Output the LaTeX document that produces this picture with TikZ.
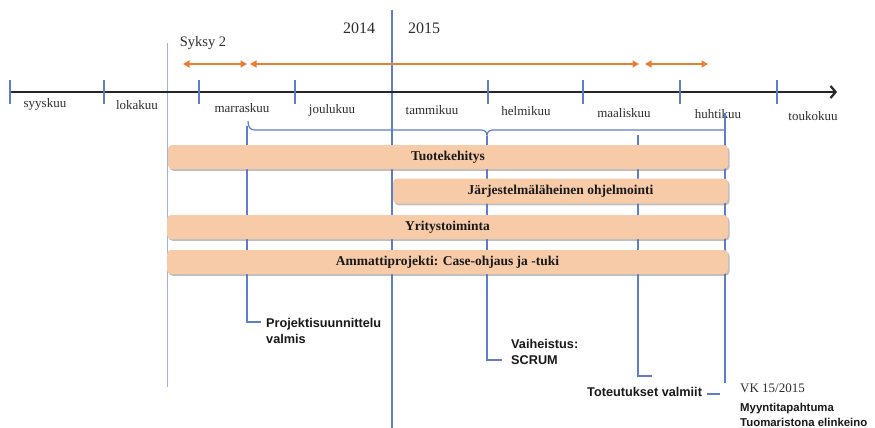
\documentclass[tikz,border=0pt]{standalone}
\usepackage{fontspec}
\setmainfont{Liberation Serif}
\setsansfont{Liberation Sans}
\usetikzlibrary{arrows.meta,shadows}
\definecolor{lineblue}{RGB}{95,125,205}
\definecolor{orangeline}{RGB}{237,125,49}
\definecolor{peach}{RGB}{247,203,168}
\definecolor{txtgray}{RGB}{45,45,45}
\begin{document}
\begin{tikzpicture}[x=1pt,y=-1pt,
  month/.style={font=\fontsize{13}{15}\selectfont, text=txtgray, inner sep=0pt, anchor=base},
  yearlbl/.style={font=\fontsize{16}{18}\selectfont, text=txtgray, inner sep=0pt, anchor=base},
  bar/.style={fill=peach, rounded corners=4pt, inner sep=0pt, minimum height=24pt,
    text=black!90, font=\bfseries\fontsize{13.5}{15}\selectfont,
    drop shadow={shadow xshift=1.5pt, shadow yshift=-1.8pt, opacity=0.45, fill=black!55}},
  blueline/.style={draw=lineblue, line width=1.2pt},
  thinline/.style={draw=lineblue!60, line width=0.7pt},
  monthtick/.style={draw=lineblue, line width=1.3pt},
  axisline/.style={draw=black!85, line width=2.2pt, -{Straight Barb[length=5pt,width=12pt]}},
  orarrow/.style={draw=orangeline, line width=1.3pt, {Triangle[length=6.5pt,width=7pt]}-{Triangle[length=6.5pt,width=7pt]}},
  note/.style={font=\sffamily\bfseries\fontsize{12.7}{16}\selectfont, text=black!90, align=left, inner sep=0pt},
  note2/.style={font=\sffamily\bfseries\fontsize{11.4}{15}\selectfont, text=black!90, align=left, inner sep=0pt}
]
\useasboundingbox (0,0) rectangle (875,428);
\fill[white] (0,0) rectangle (875,428);

% guide lines
\coordinate (yl1) at (392,10);
\coordinate (yl2) at (392,428);
\draw[blueline] (yl1) -- (yl2);
\coordinate (sl1) at (167,43);
\coordinate (sl2) at (167,387);
\draw[thinline] (sl1) -- (sl2);

% axis
\coordinate (ax0) at (10,92);
\coordinate (ax1) at (837,92);
\draw[axisline] (ax0) -- (ax1);
\foreach \x in {10,104,199,295,488,583,680,777}
  \draw[monthtick] (\x,80) -- (\x,104);

% month labels
\node[month] (m1) at (45,107) {syyskuu};
\node[month] (m2) at (137,109) {lokakuu};
\node[month] (m3) at (242,112) {marraskuu};
\node[month] (m4) at (332,113) {joulukuu};
\node[month] (m5) at (432,114) {tammikuu};
\node[month] (m6) at (526,115) {helmikuu};
\node[month] (m7) at (624,117) {maaliskuu};
\node[month] (m8) at (718,118) {huhtikuu};
\node[month] (m9) at (813,120) {toukokuu};

% years and season
\node[yearlbl] (y14) at (359,33.5) {2014};
\node[yearlbl] (y15) at (424,33.5) {2015};
\node[font=\fontsize{14.5}{16}\selectfont, text=txtgray, inner sep=0pt, anchor=base] (syk) at (203,47) {Syksy 2};

% orange period arrows
\coordinate (o1a) at (183,64);
\coordinate (o1b) at (247,64);
\coordinate (o2a) at (250,64);
\coordinate (o2b) at (639,64);
\coordinate (o3a) at (645,64);
\coordinate (o3b) at (708,64);
\draw[orarrow] (o1a) -- (o1b);
\draw[orarrow] (o2a) -- (o2b);
\draw[orarrow] (o3a) -- (o3b);

% brace
\draw[blueline] (248,121) .. controls (248,127) and (250,130) .. (255,130)
  -- (481,130) .. controls (485,130) and (487,132) .. (487,136)
  .. controls (487,132) and (489,130) .. (493,130) -- (725,130);

% milestone connectors
\coordinate (pv1) at (247,126);
\coordinate (pv2) at (261,322);
\draw[blueline] (pv1) |- (pv2);
\coordinate (vv1) at (487,136);
\coordinate (vv2) at (502,360);
\draw[blueline] (vv1) |- (vv2);
\coordinate (tv1) at (638,135);
\coordinate (tv2) at (652,376);
\draw[blueline] (tv1) |- (tv2);
\coordinate (hv1) at (725,113);
\coordinate (hv2) at (725,383);
\draw[blueline] (hv1) -- (hv2);

% bars
\node[bar, minimum width=560pt] (b1) at (448,157) {Tuotekehitys};
\node[bar, minimum width=335pt, minimum height=25pt] (b2) at (560.5,191) {Järjestelmäläheinen ohjelmointi};
\node[bar, minimum width=561pt] (b3) at (447.5,227) {Yritystoiminta};
\node[bar, minimum width=561pt] (b4) at (447.5,262) {Ammattiprojekti: Case-ohjaus ja -tuki};

% milestone texts
\node[note, anchor=north west] (pjt) at (266,318) {Projektisuunnittelu\\valmis};
\node[note, anchor=north west] (vai) at (511,339.5) {Vaiheistus:\\SCRUM};
\node[note, anchor=base west] (tot) at (587,396.5) {Toteutukset valmiit};
\draw[blueline] ([xshift=5pt,yshift=-2pt]tot.east) -- ++(13,0);
\node[font=\fontsize{13}{15}\selectfont, text=txtgray, inner sep=0pt, anchor=base west] (vk) at (740,392.5) {VK 15/2015};
\node[note2, anchor=north west] (myy) at (740,403) {Myyntitapahtuma\\Tuomaristona elinkeino};
\end{tikzpicture}
\end{document}
